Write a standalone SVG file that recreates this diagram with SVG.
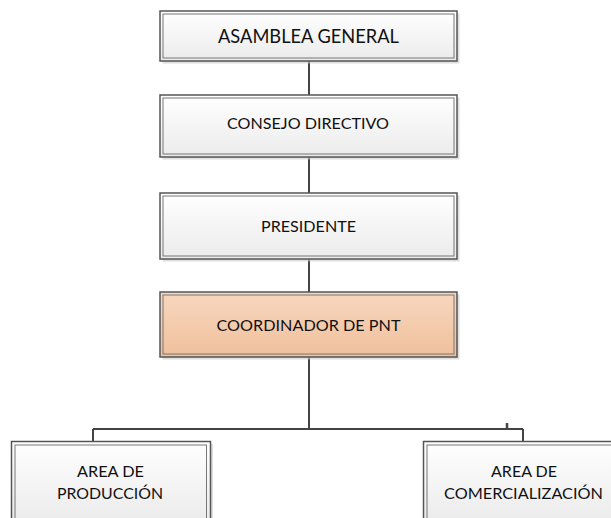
<svg xmlns="http://www.w3.org/2000/svg" width="611" height="518" viewBox="0 0 611 518">
<defs>
<linearGradient id="gw" x1="0" y1="0" x2="0" y2="1">
<stop offset="0" stop-color="#ffffff"/>
<stop offset="1" stop-color="#ebebeb"/>
</linearGradient>
<linearGradient id="go" x1="0" y1="0" x2="0" y2="1">
<stop offset="0" stop-color="#f7d7be"/>
<stop offset="1" stop-color="#f0c09c"/>
</linearGradient>
</defs>
<style>
.sh{fill:#c8c8c8;opacity:0.6}
.out{stroke:#555;stroke-width:1.5}
.in{fill:none;stroke:#777;stroke-width:1}
.w{fill:url(#gw)}
.o{fill:url(#go)}
.t{font-family:Lato,"Liberation Sans",Arial,sans-serif;font-size:16px;fill:#111;text-anchor:middle}
.big{font-size:18.5px}
.c{fill:none;stroke:#444;stroke-width:2}
</style>
<rect width="611" height="518" fill="#fff"/>
<g id="connectors">
<path class="c" d="M309 61V95M309 157V193M309 259V292M309 357V429M93 429H523M93 429V441M523 429V442"/>
<path d="M507 423V429" stroke="#444" stroke-width="2.5"/>
</g>
<g id="n1">
<rect class="sh" x="162.5" y="13.5" width="297" height="50"/>
<rect class="w out" x="160" y="11" width="297" height="50"/>
<rect class="in" x="163" y="14" width="291" height="44"/>
<text class="t big" x="308.5" y="43" textLength="181" lengthAdjust="spacingAndGlyphs">ASAMBLEA GENERAL</text>
</g>
<g id="n2">
<rect class="sh" x="162.5" y="97.5" width="297" height="62"/>
<rect class="w out" x="160" y="95" width="297" height="62"/>
<rect class="in" x="163" y="98" width="291" height="56"/>
<text class="t" x="308" y="129" textLength="162" lengthAdjust="spacingAndGlyphs">CONSEJO DIRECTIVO</text>
</g>
<g id="n3">
<rect class="sh" x="162.5" y="195.5" width="297" height="66"/>
<rect class="w out" x="160" y="193" width="297" height="66"/>
<rect class="in" x="163" y="196" width="291" height="60"/>
<text class="t" x="308.5" y="232" textLength="95" lengthAdjust="spacingAndGlyphs">PRESIDENTE</text>
</g>
<g id="n4">
<rect class="sh" x="162.5" y="294.5" width="297" height="65"/>
<rect class="o out" x="160" y="292" width="297" height="65"/>
<rect class="in" x="163" y="295" width="291" height="59"/>
<text class="t" x="308.5" y="331" textLength="184" lengthAdjust="spacingAndGlyphs">COORDINADOR DE PNT</text>
</g>
<g id="n5">
<rect class="sh" x="14" y="444" width="199" height="80"/>
<rect class="w out" x="11.5" y="441.5" width="199" height="80"/>
<rect class="in" x="15" y="445" width="191.5" height="80"/>
<text class="t" x="110.5" y="477" textLength="67" lengthAdjust="spacingAndGlyphs">AREA DE</text>
<text class="t" x="110" y="499" textLength="106" lengthAdjust="spacingAndGlyphs">PRODUCCIÓN</text>
</g>
<g id="n6">
<rect class="sh" x="426" y="444" width="199" height="80"/>
<rect class="w out" x="423.5" y="441.5" width="199" height="80"/>
<rect class="in" x="427" y="445" width="191.5" height="80"/>
<text class="t" x="524" y="477" textLength="66" lengthAdjust="spacingAndGlyphs">AREA DE</text>
<text class="t" x="523.5" y="499" textLength="159" lengthAdjust="spacingAndGlyphs">COMERCIALIZACIÓN</text>
</g>
</svg>
